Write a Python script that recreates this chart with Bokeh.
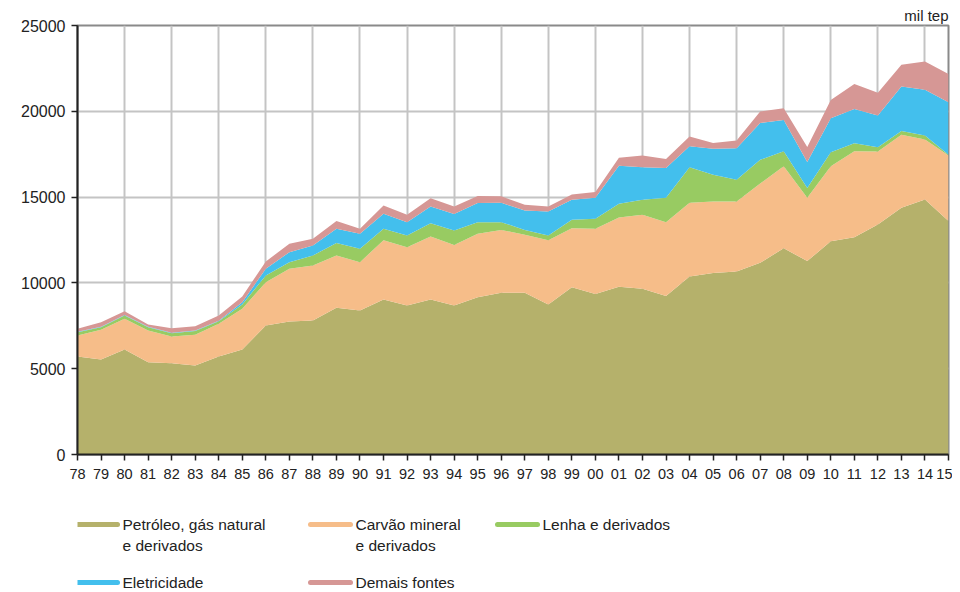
from bokeh.plotting import figure
from bokeh.models import ColumnDataSource, FixedTicker, Range1d
from bokeh.layouts import column
from bokeh.embed import file_html
from bokeh.resources import INLINE
from bokeh.core.properties import value

years = ["78", "79", "80", "81", "82", "83", "84", "85", "86", "87", "88", "89", "90",
         "91", "92", "93", "94", "95", "96", "97", "98", "99", "00", "01", "02", "03",
         "04", "05", "06", "07", "08", "09", "10", "11", "12", "13", "14", "15"]

petroleo = [5710, 5540, 6120, 5380, 5320, 5190, 5710, 6120, 7520, 7750, 7810, 8550, 8390,
            9030, 8680, 9030, 8680, 9170, 9420, 9420, 8740, 9750, 9360, 9770, 9655, 9230,
            10370, 10570, 10660, 11170, 12020, 11270, 12430, 12665, 13400, 14375, 14860, 13600]
carvao = [1225, 1725, 1790, 1845, 1555, 1785, 1905, 2370, 2520, 3070, 3200, 3050, 2820,
          3460, 3400, 3670, 3535, 3690, 3670, 3380, 3750, 3440, 3790, 4040, 4310, 4310,
          4295, 4180, 4080, 4620, 4780, 3690, 4370, 5010, 4255, 4255, 3500, 3825]
lenha = [190, 155, 190, 195, 195, 215, 155, 250, 390, 390, 585, 720, 775,
         660, 680, 780, 835, 680, 450, 290, 270, 485, 585, 800, 875, 1420,
         2080, 1555, 1265, 1380, 875, 565, 815, 465, 255, 215, 230, 50]
eletricidade = [30, 30, 30, 30, 30, 30, 30, 135, 390, 580, 585, 835, 875,
                875, 775, 970, 970, 1110, 1125, 1130, 1400, 1165, 1225, 2210, 1900, 1730,
                1225, 1515, 1845, 2155, 1825, 1515, 1980, 2000, 1845, 2600, 2660, 3050]
demais = [170, 260, 220, 125, 260, 260, 300, 330, 430, 490, 390, 445, 290,
          485, 430, 485, 430, 410, 390, 330, 290, 310, 330, 480, 680, 525,
          565, 330, 445, 660, 680, 875, 1070, 1455, 1320, 1265, 1650, 1650]

series_keys = ["petroleo", "carvao", "lenha", "eletricidade", "demais"]
series_labels = [["Petróleo, gás natural", "e derivados"],
                 ["Carvão mineral", "e derivados"],
                 ["Lenha e derivados"],
                 ["Eletricidade"],
                 ["Demais fontes"]]
colors = ["#b5b16b", "#f6bd89", "#98cb62", "#43bfed", "#d69795"]
y_ticks = [0, 5000, 10000, 15000, 20000, 25000]
unit_text = "mil tep"

FONT = "Liberation Sans"
xs = list(range(len(years)))

src = ColumnDataSource(dict(x=xs, petroleo=petroleo, carvao=carvao, lenha=lenha,
                            eletricidade=eletricidade, demais=demais))

p = figure(frame_width=871, frame_height=429, output_backend="svg", toolbar_location=None,
           x_range=Range1d(0, len(years) - 1), y_range=Range1d(0, 25000),
           min_border_left=77, min_border_top=25, min_border_right=4, min_border_bottom=60,
           background_fill_color="white", border_fill_color="white",
           title=unit_text)

p.title.align = "right"
p.title.text_font = FONT
p.title.text_font_size = "15px"
p.title.text_font_style = "normal"
p.title.text_color = "#222222"
p.title.standoff = 3

p.varea_stack(stackers=series_keys, x="x", color=colors, source=src)

p.outline_line_color = "#8a8a8a"
p.outline_line_width = 2

p.xaxis.ticker = FixedTicker(ticks=xs)
p.xaxis.major_label_overrides = {i: y for i, y in enumerate(years)}
p.xgrid.ticker = FixedTicker(ticks=xs[2::2])
p.yaxis.ticker = FixedTicker(ticks=y_ticks)

for ax in (p.xaxis, p.yaxis):
    ax.axis_line_color = "#222222"
    ax.axis_line_width = 2
    ax.major_tick_line_color = "#222222"
    ax.major_tick_line_width = 1.5
    ax.major_tick_out = 6
    ax.major_tick_in = 0
    ax.minor_tick_line_color = None
    ax.major_label_text_font = FONT
    ax.major_label_text_color = "#222222"

p.yaxis.major_label_text_font_size = "16px"
p.yaxis.major_label_standoff = 6
p.xaxis.major_label_text_font_size = "14.5px"
p.xaxis.major_label_standoff = 8

p.xgrid.grid_line_color = "#c4c4c4"
p.xgrid.grid_line_width = 2
p.ygrid.grid_line_color = "#c4c4c4"
p.ygrid.grid_line_width = 2

# legend panel (frame aligned with the chart frame)
lh = 76
leg = figure(frame_width=871, frame_height=lh, output_backend="svg", toolbar_location=None,
             x_range=Range1d(0, 871), y_range=Range1d(lh, 0),
             x_axis_location=None, y_axis_location=None,
             min_border_left=77, min_border_right=4, min_border_top=0, min_border_bottom=0,
             outline_line_color=None)
leg.grid.visible = False

col_x = [0, 233, 420]
row_y = [10, 68]
pos = [(0, 0), (1, 0), (2, 0), (0, 1), (1, 1)]
for (ci, ri), lab, c in zip(pos, series_labels, colors):
    x0 = col_x[ci]
    y0 = row_y[ri]
    leg.line([x0, x0 + 40], [y0, y0], line_color=c, line_width=5, line_cap="round")
    for k, t in enumerate(lab):
        leg.text([x0 + 45], [y0 + k * 21], text=[t], text_baseline="middle",
                 text_font=value(FONT), text_font_size="15.5px", text_color="#222222")

layout = column(p, leg, spacing=0)
open("out.html", "w").write(file_html(layout, INLINE))
